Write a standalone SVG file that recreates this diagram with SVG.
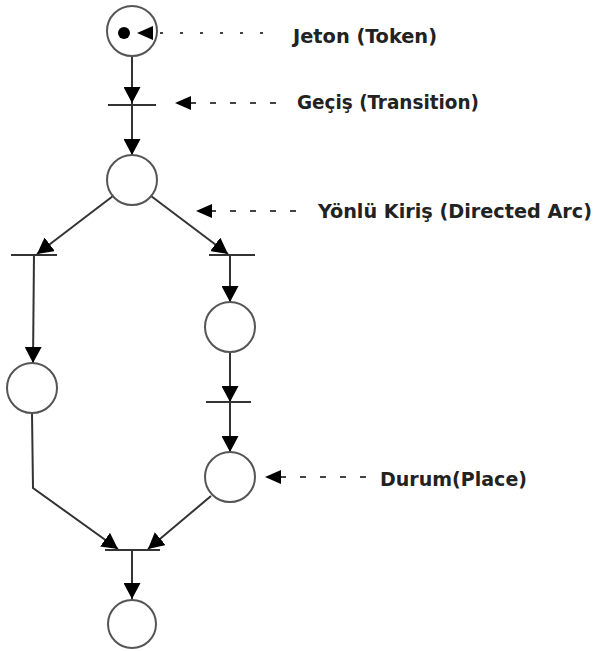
<svg xmlns="http://www.w3.org/2000/svg" width="595" height="651" viewBox="0 0 595 651">
<defs>
<marker id="ah" viewBox="0 0 10 10" refX="10" refY="5" markerWidth="16" markerHeight="17" markerUnits="userSpaceOnUse" orient="auto" preserveAspectRatio="none">
<path d="M0,0 L10,5 L0,10 Z" fill="#000"/>
</marker>
</defs>
<style>
.place{fill:#fff;stroke:#555;stroke-width:2}
.trans{stroke:#333;stroke-width:2}
.arc{fill:none;stroke:#333;stroke-width:2}
.dot{fill:none;stroke:#444;stroke-width:2;stroke-dasharray:3 17}
.dash{fill:none;stroke:#444;stroke-width:2;stroke-dasharray:6 14}
.lbl{font-family:"DejaVu Sans Condensed","DejaVu Sans",sans-serif;font-weight:bold;font-size:19px;fill:#222}
</style>
<rect width="595" height="651" fill="#fff"/>
<g id="connectors">
<line class="arc" x1="132" y1="56" x2="132" y2="103" marker-end="url(#ah)"/>
<line class="arc" x1="132" y1="103" x2="132" y2="155" marker-end="url(#ah)"/>
<line class="arc" x1="113" y1="196" x2="37" y2="254" marker-end="url(#ah)"/>
<line class="arc" x1="151" y1="196" x2="228" y2="254" marker-end="url(#ah)"/>
<line class="arc" x1="34" y1="254" x2="33" y2="363" marker-end="url(#ah)"/>
<line class="arc" x1="230" y1="254" x2="230" y2="302" marker-end="url(#ah)"/>
<line class="arc" x1="230" y1="352" x2="230" y2="402" marker-end="url(#ah)"/>
<line class="arc" x1="230" y1="402" x2="230" y2="452" marker-end="url(#ah)"/>
<polyline class="arc" points="32,413 33,488 118,549" marker-end="url(#ah)"/>
<line class="arc" x1="211" y1="496" x2="148" y2="549" marker-end="url(#ah)"/>
<line class="arc" x1="132" y1="550" x2="132" y2="599" marker-end="url(#ah)"/>
</g>
<g id="place-token">
<circle class="place" cx="132" cy="31" r="25"/>
<circle cx="124" cy="33" r="6" fill="#000"/>
</g>
<g id="place-2"><circle class="place" cx="132" cy="180" r="25"/></g>
<g id="place-left"><circle class="place" cx="32" cy="388" r="25"/></g>
<g id="place-right1"><circle class="place" cx="230" cy="327" r="25"/></g>
<g id="place-right2"><circle class="place" cx="230" cy="477" r="25"/></g>
<g id="place-bottom"><circle class="place" cx="132" cy="624" r="24"/></g>
<g id="transition-top"><line class="trans" x1="108" y1="105" x2="156" y2="105"/></g>
<g id="transition-left"><line class="trans" x1="11" y1="255" x2="57" y2="255"/></g>
<g id="transition-right1"><line class="trans" x1="209" y1="255" x2="255" y2="255"/></g>
<g id="transition-right2"><line class="trans" x1="206" y1="402" x2="251" y2="402"/></g>
<g id="transition-bottom"><line class="trans" x1="105" y1="550" x2="160" y2="550"/></g>
<g id="annotations">
<line class="dot" x1="160" y1="33" x2="275" y2="33"/>
<path d="M137,33 L153,26 L153,40 Z" fill="#000"/>
<text class="lbl" x="293" y="43" textLength="144" lengthAdjust="spacingAndGlyphs">Jeton (Token)</text>
<line class="dash" x1="190" y1="103" x2="290" y2="103"/>
<path d="M175,103 L191,96 L191,110 Z" fill="#000"/>
<text class="lbl" x="297" y="109" textLength="182" lengthAdjust="spacingAndGlyphs">Geçiş (Transition)</text>
<line class="dash" x1="210" y1="211" x2="305" y2="211"/>
<path d="M196,211 L212,204 L212,218 Z" fill="#000"/>
<text class="lbl" x="318" y="218" textLength="274" lengthAdjust="spacingAndGlyphs">Yönlü Kiriş (Directed Arc)</text>
<line class="dash" x1="280" y1="477" x2="372" y2="477"/>
<path d="M265,477 L281,470 L281,484 Z" fill="#000"/>
<text class="lbl" x="380" y="486" textLength="147" lengthAdjust="spacingAndGlyphs">Durum(Place)</text>
</g>
</svg>
